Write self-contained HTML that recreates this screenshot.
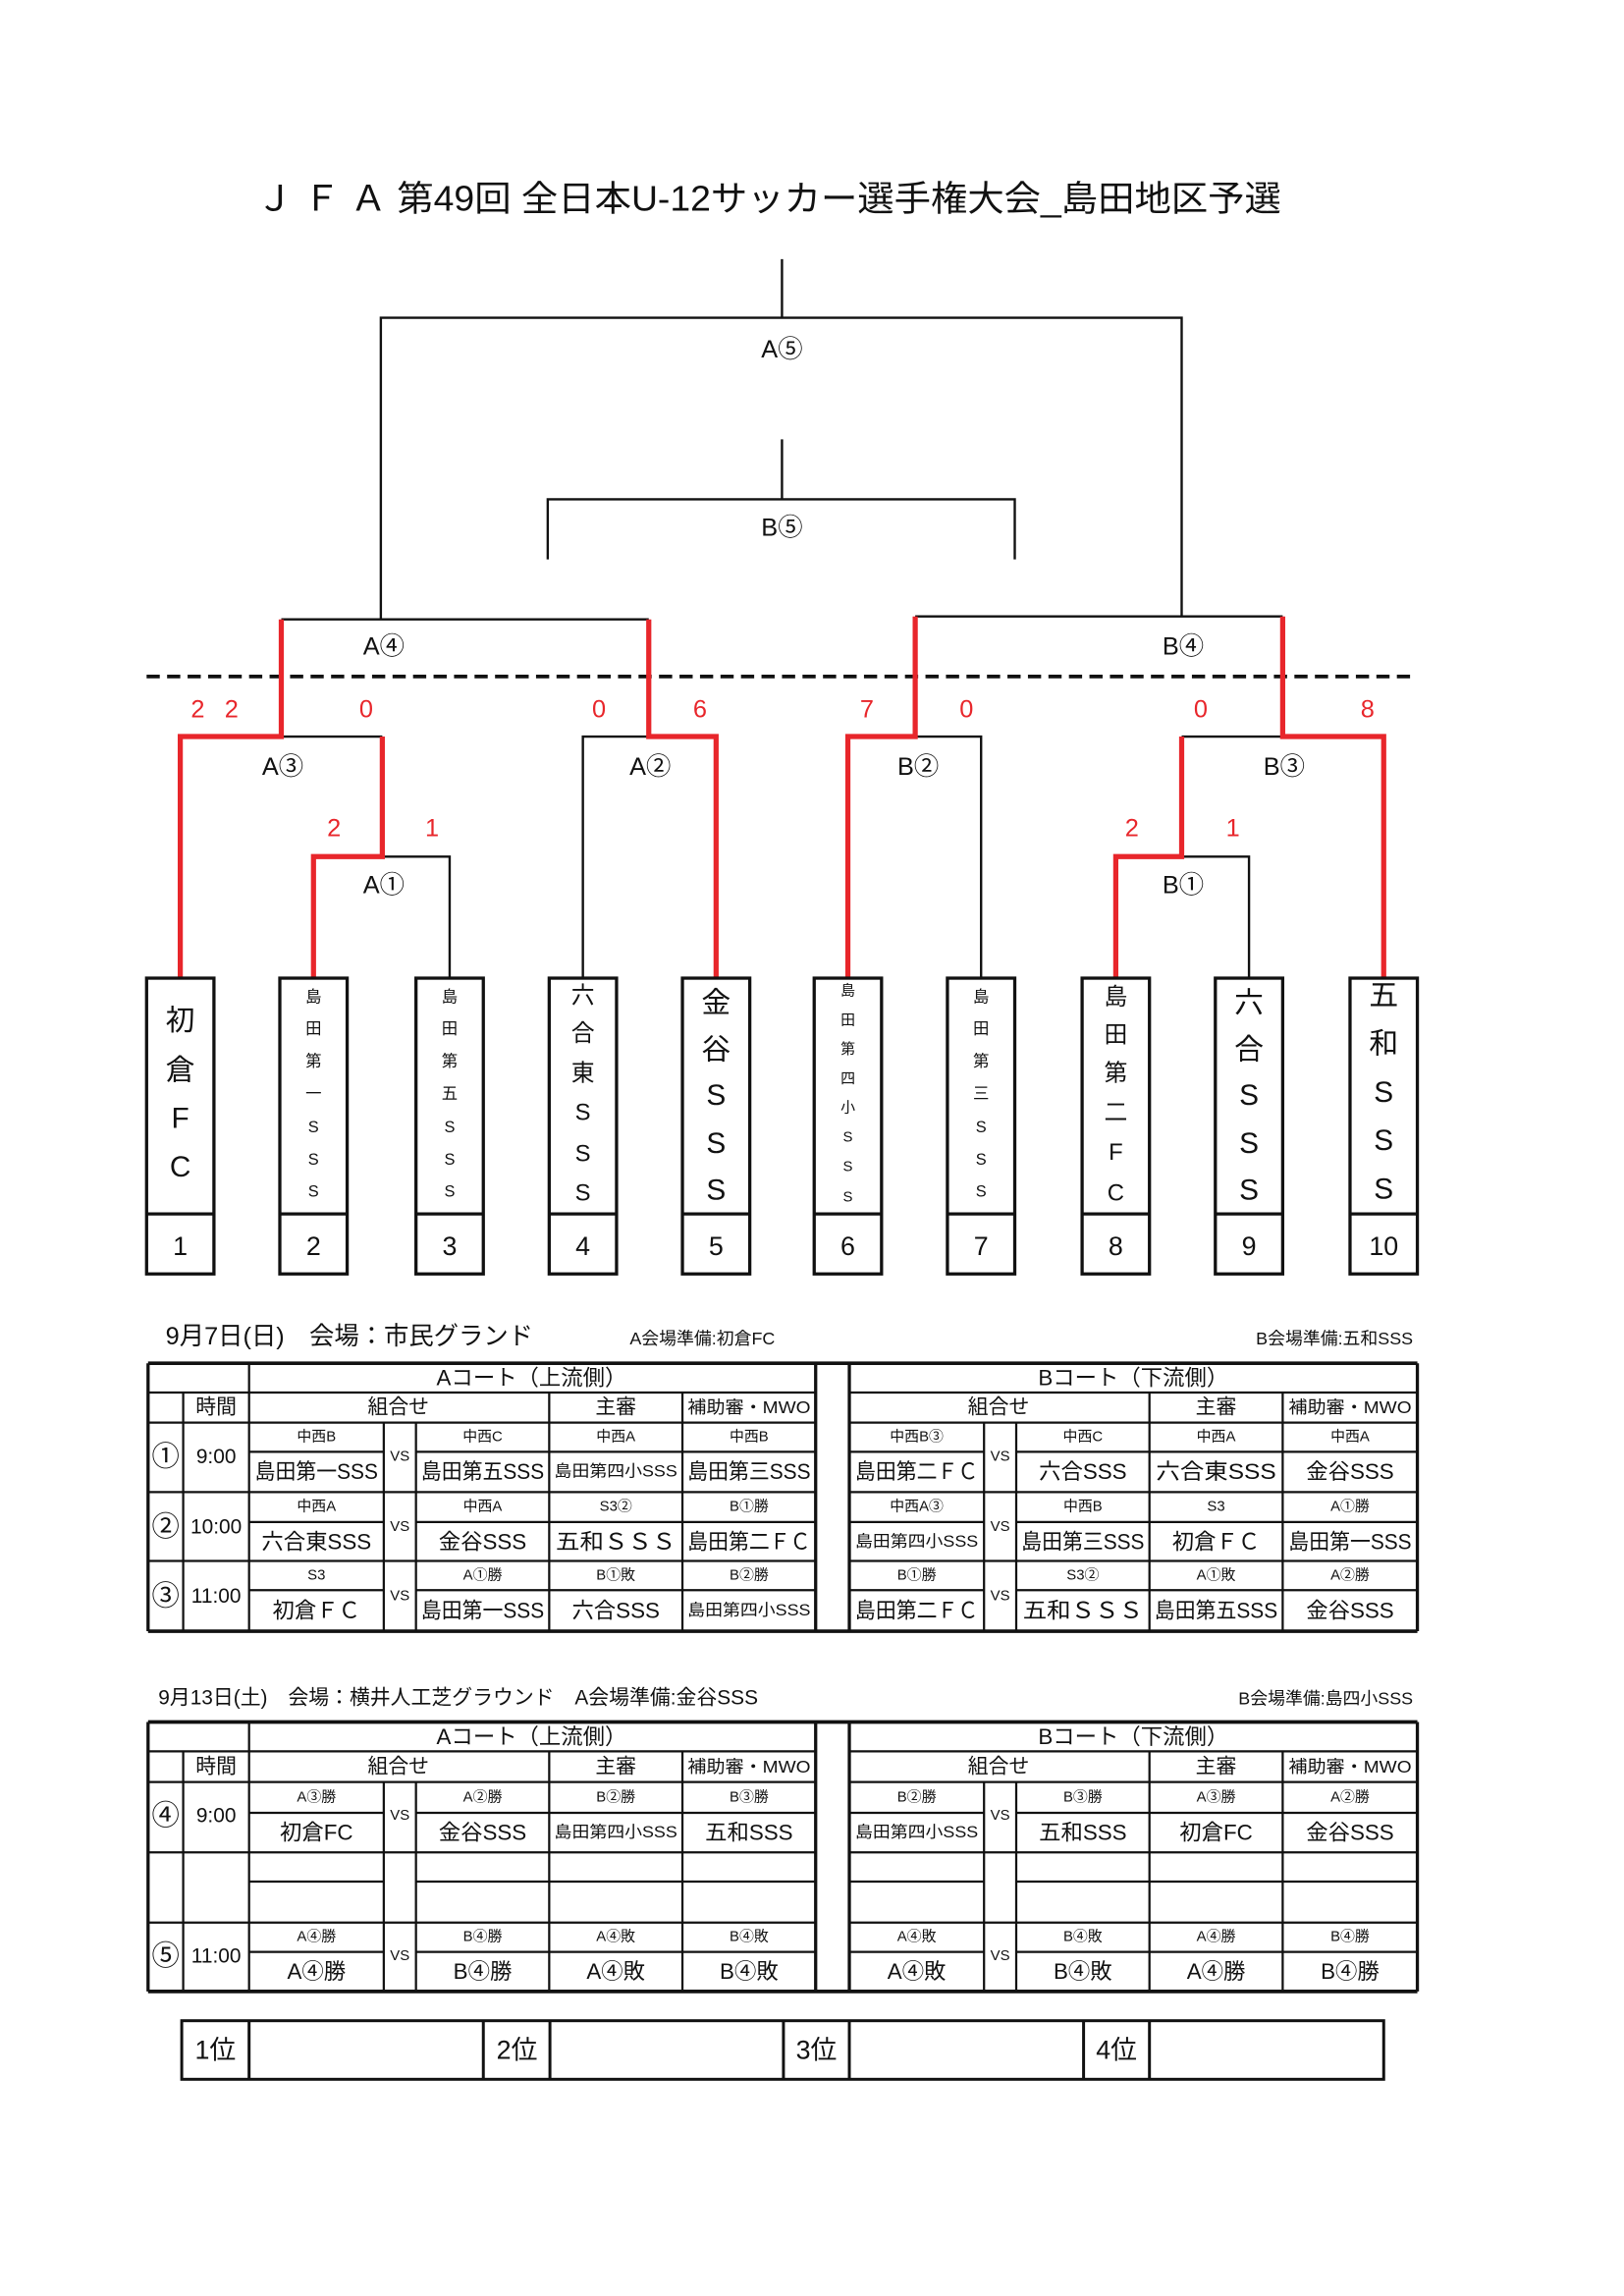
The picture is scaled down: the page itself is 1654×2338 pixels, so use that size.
<!DOCTYPE html>
<html><head><meta charset="utf-8"><style>
html,body{margin:0;padding:0;background:#fff}
svg{display:block}
text{font-family:"Liberation Sans","Noto Sans CJK JP",sans-serif;fill:#111}
.r{fill:#e8262b}
</style></head><body>
<svg width="1654" height="2338" viewBox="0 0 1109 1568" xmlns="http://www.w3.org/2000/svg">
<rect width="1109" height="1568" fill="#fff"/>
<text x="525" y="144" font-size="24" text-anchor="middle" textLength="700" lengthAdjust="spacingAndGlyphs">Ｊ Ｆ Ａ 第49回 全日本U-12サッカー選手権大会_島田地区予選</text>

<!-- black bracket -->
<g stroke="#111" stroke-width="1.6" fill="none">
<path d="M534 177V217M260 423V217H807V421"/>
<path d="M534 300V341M374 382V341H693V382"/>
<path d="M192 423H443M625 421H876"/>
<path d="M192 503H261M398 668V503H443M625 503H670V668M807 503H876"/>
<path d="M261 585H307V668M807 585H853V668"/>
</g>
<line x1="100" y1="462" x2="965" y2="462" stroke="#111" stroke-width="2.5" stroke-dasharray="9,5"/>
<!-- red bracket -->
<g stroke="#e8262b" stroke-width="3.5" fill="none">
<path d="M192 423V503H123V668"/>
<path d="M443 423V503H489V668"/>
<path d="M625 421V503H579V668"/>
<path d="M876 421V503H945V668"/>
<path d="M261 503V585H214V668"/>
<path d="M807 503V585H762V668"/>
</g>
<g font-size="17" text-anchor="middle">
<text x="534" y="244">A⑤</text><text x="534" y="366">B⑤</text>
<text x="262" y="447">A④</text><text x="808" y="447">B④</text>
<text x="193" y="529">A③</text><text x="444" y="529">A②</text>
<text x="627" y="529">B②</text><text x="877" y="529">B③</text>
<text x="262" y="610">A①</text><text x="808" y="610">B①</text>
</g>
<g font-size="17" text-anchor="middle" class="r">
<text class="r" x="135" y="490">2</text><text class="r" x="158" y="490">2</text>
<text class="r" x="250" y="490">0</text><text class="r" x="409" y="490">0</text>
<text class="r" x="478" y="490">6</text><text class="r" x="592" y="490">7</text>
<text class="r" x="660" y="490">0</text><text class="r" x="820" y="490">0</text>
<text class="r" x="934" y="490">8</text>
<text class="r" x="228" y="571">2</text><text class="r" x="295" y="571">1</text>
<text class="r" x="773" y="571">2</text><text class="r" x="842" y="571">1</text>
</g>

<!-- team boxes -->
<g stroke="#111" stroke-width="2.2" fill="none">
<rect x="100" y="668" width="46" height="202"/><line x1="100" y1="829" x2="146" y2="829"/>
<rect x="191" y="668" width="46" height="202"/><line x1="191" y1="829" x2="237" y2="829"/>
<rect x="284" y="668" width="46" height="202"/><line x1="284" y1="829" x2="330" y2="829"/>
<rect x="375" y="668" width="46" height="202"/><line x1="375" y1="829" x2="421" y2="829"/>
<rect x="466" y="668" width="46" height="202"/><line x1="466" y1="829" x2="512" y2="829"/>
<rect x="556" y="668" width="46" height="202"/><line x1="556" y1="829" x2="602" y2="829"/>
<rect x="647" y="668" width="46" height="202"/><line x1="647" y1="829" x2="693" y2="829"/>
<rect x="739" y="668" width="46" height="202"/><line x1="739" y1="829" x2="785" y2="829"/>
<rect x="830" y="668" width="46" height="202"/><line x1="830" y1="829" x2="876" y2="829"/>
<rect x="922" y="668" width="46" height="202"/><line x1="922" y1="829" x2="968" y2="829"/>
</g>
<g font-size="18" text-anchor="middle">
<text x="123" y="857">1</text><text x="214" y="857">2</text><text x="307" y="857">3</text><text x="398" y="857">4</text><text x="489" y="857">5</text><text x="579" y="857">6</text><text x="670" y="857">7</text><text x="762" y="857">8</text><text x="853" y="857">9</text><text x="945" y="857">10</text>
</g>
<g text-anchor="middle" dominant-baseline="central">
<g font-size="20"><text x="123" y="697">初</text><text x="123" y="731">倉</text><text x="123" y="764">F</text><text x="123" y="797">C</text></g>
<g font-size="11"><text x="214" y="681">島</text><text x="214" y="703">田</text><text x="214" y="725">第</text><text x="214" y="747">一</text><text x="214" y="770">S</text><text x="214" y="792">S</text><text x="214" y="814">S</text></g>
<g font-size="11"><text x="307" y="681">島</text><text x="307" y="703">田</text><text x="307" y="725">第</text><text x="307" y="747">五</text><text x="307" y="770">S</text><text x="307" y="792">S</text><text x="307" y="814">S</text></g>
<g font-size="16"><text x="398" y="680">六</text><text x="398" y="706">合</text><text x="398" y="733">東</text><text x="398" y="760">S</text><text x="398" y="788">S</text><text x="398" y="815">S</text></g>
<g font-size="20"><text x="489" y="685">金</text><text x="489" y="717">谷</text><text x="489" y="748">S</text><text x="489" y="781">S</text><text x="489" y="813">S</text></g>
<g font-size="10"><text x="579" y="677">島</text><text x="579" y="697">田</text><text x="579" y="717">第</text><text x="579" y="737">四</text><text x="579" y="757">小</text><text x="579" y="777">S</text><text x="579" y="797">S</text><text x="579" y="818">S</text></g>
<g font-size="11"><text x="670" y="681">島</text><text x="670" y="703">田</text><text x="670" y="725">第</text><text x="670" y="747">三</text><text x="670" y="770">S</text><text x="670" y="792">S</text><text x="670" y="814">S</text></g>
<g font-size="16"><text x="762" y="681">島</text><text x="762" y="707">田</text><text x="762" y="733">第</text><text x="762" y="760">二</text><text x="762" y="787">F</text><text x="762" y="815">C</text></g>
<g font-size="20"><text x="853" y="685">六</text><text x="853" y="717">合</text><text x="853" y="748">S</text><text x="853" y="781">S</text><text x="853" y="813">S</text></g>
<g font-size="20"><text x="945" y="680">五</text><text x="945" y="713">和</text><text x="945" y="746">S</text><text x="945" y="779">S</text><text x="945" y="812">S</text></g>
</g>

<!-- Table 1 -->
<text x="113" y="918" font-size="17">9月7日(日)　会場：市民グランド</text>
<text x="430" y="918" font-size="12">A会場準備:初倉FC</text>
<text x="965" y="918" font-size="12" text-anchor="end">B会場準備:五和SSS</text>
<g stroke="#111" stroke-width="1.5" fill="none">
<path d="M101 931H968M101 1114H968" stroke-width="2.5"/>
<path d="M101 931V1114M968 931V1114M557 931V1114M580 931V1114" stroke-width="2.2"/>
<path d="M101 951H557M580 951H968M101 971.5H557M580 971.5H968M101 1019H557M580 1019H968M101 1066H557M580 1066H968"/>
<path d="M170 991.5H262M284 991.5H557M580 991.5H672M694 991.5H968"/>
<path d="M170 1039.4H262M284 1039.4H557M580 1039.4H672M694 1039.4H968"/>
<path d="M170 1086H262M284 1086H557M580 1086H672M694 1086H968"/>
<path d="M125 951V1114M170 931V1114M262 971.5V1114M284 971.5V1114M375 951V1114M466 951V1114M672 971.5V1114M694 971.5V1114M785 951V1114M876 951V1114"/>
</g>
<g text-anchor="middle" dominant-baseline="central">
<g font-size="15"><text x="363" y="941">Aコート（上流側）</text><text x="774" y="941">Bコート（下流側）</text></g>
<g font-size="14"><text x="147.5" y="961">時間</text><text x="272" y="961">組合せ</text><text x="420.5" y="961">主審</text><text x="682" y="961">組合せ</text><text x="830.5" y="961">主審</text></g>
<g font-size="12"><text x="511.5" y="961" textLength="84" lengthAdjust="spacingAndGlyphs">補助審・MWO</text><text x="922" y="961" textLength="84" lengthAdjust="spacingAndGlyphs">補助審・MWO</text></g>
<g font-size="19"><text x="113" y="995">①</text><text x="113" y="1043">②</text><text x="113" y="1090">③</text></g>
<g font-size="14"><text x="147.5" y="995">9:00</text><text x="147.5" y="1043">10:00</text><text x="147.5" y="1090">11:00</text></g>
<g font-size="10"><text x="273" y="995">VS</text><text x="273" y="1043">VS</text><text x="273" y="1090">VS</text><text x="683" y="995">VS</text><text x="683" y="1043">VS</text><text x="683" y="1090">VS</text></g>
<g font-size="10">
<text x="216" y="981.5">中西B</text><text x="329.5" y="981.5">中西C</text><text x="420.5" y="981.5">中西A</text><text x="511.5" y="981.5">中西B</text>
<text x="626" y="981.5">中西B③</text><text x="739.5" y="981.5">中西C</text><text x="830.5" y="981.5">中西A</text><text x="922" y="981.5">中西A</text>
<text x="216" y="1029">中西A</text><text x="329.5" y="1029">中西A</text><text x="420.5" y="1029">S3②</text><text x="511.5" y="1029">B①勝</text>
<text x="626" y="1029">中西A③</text><text x="739.5" y="1029">中西B</text><text x="830.5" y="1029">S3</text><text x="922" y="1029">A①勝</text>
<text x="216" y="1076">S3</text><text x="329.5" y="1076">A①勝</text><text x="420.5" y="1076">B①敗</text><text x="511.5" y="1076">B②勝</text>
<text x="626" y="1076">B①勝</text><text x="739.5" y="1076">S3②</text><text x="830.5" y="1076">A①敗</text><text x="922" y="1076">A②勝</text>
</g>
<g font-size="15">
<text x="216" y="1005" textLength="84" lengthAdjust="spacingAndGlyphs">島田第一SSS</text>
<text x="329.5" y="1005" textLength="84" lengthAdjust="spacingAndGlyphs">島田第五SSS</text>
<text x="420.5" y="1005" font-size="11" textLength="84" lengthAdjust="spacingAndGlyphs">島田第四小SSS</text>
<text x="511.5" y="1005" textLength="84" lengthAdjust="spacingAndGlyphs">島田第三SSS</text>
<text x="626" y="1005" textLength="84" lengthAdjust="spacingAndGlyphs">島田第二ＦＣ</text>
<text x="739.5" y="1005">六合SSS</text>
<text x="830.5" y="1005" textLength="82" lengthAdjust="spacingAndGlyphs">六合東SSS</text>
<text x="922" y="1005">金谷SSS</text>
<text x="216" y="1053">六合東SSS</text>
<text x="329.5" y="1053">金谷SSS</text>
<text x="420.5" y="1053" textLength="82" lengthAdjust="spacingAndGlyphs">五和ＳＳＳ</text>
<text x="511.5" y="1053" textLength="84" lengthAdjust="spacingAndGlyphs">島田第二ＦＣ</text>
<text x="626" y="1053" font-size="11" textLength="84" lengthAdjust="spacingAndGlyphs">島田第四小SSS</text>
<text x="739.5" y="1053" textLength="84" lengthAdjust="spacingAndGlyphs">島田第三SSS</text>
<text x="830.5" y="1053">初倉ＦＣ</text>
<text x="922" y="1053" textLength="84" lengthAdjust="spacingAndGlyphs">島田第一SSS</text>
<text x="216" y="1100">初倉ＦＣ</text>
<text x="329.5" y="1100" textLength="84" lengthAdjust="spacingAndGlyphs">島田第一SSS</text>
<text x="420.5" y="1100">六合SSS</text>
<text x="511.5" y="1100" font-size="11" textLength="84" lengthAdjust="spacingAndGlyphs">島田第四小SSS</text>
<text x="626" y="1100" textLength="84" lengthAdjust="spacingAndGlyphs">島田第二ＦＣ</text>
<text x="739.5" y="1100" textLength="82" lengthAdjust="spacingAndGlyphs">五和ＳＳＳ</text>
<text x="830.5" y="1100" textLength="84" lengthAdjust="spacingAndGlyphs">島田第五SSS</text>
<text x="922" y="1100">金谷SSS</text>
</g>
</g>

<!-- Table 2 -->
<text x="108" y="1164" font-size="14">9月13日(土)　会場：横井人工芝グラウンド　A会場準備:金谷SSS</text>
<text x="965" y="1164" font-size="12" text-anchor="end">B会場準備:島四小SSS</text>
<g stroke="#111" stroke-width="1.5" fill="none">
<path d="M101 1176H968M101 1360H968" stroke-width="2.5"/>
<path d="M101 1176V1360M968 1176V1360M557 1176V1360M580 1176V1360" stroke-width="2.2"/>
<path d="M101 1196H557M580 1196H968M101 1217H557M580 1217H968M101 1265H557M580 1265H968M101 1313H557M580 1313H968"/>
<path d="M170 1238H262M284 1238H557M580 1238H672M694 1238H968"/>
<path d="M170 1285H262M284 1285H557M580 1285H672M694 1285H968"/>
<path d="M170 1333H262M284 1333H557M580 1333H672M694 1333H968"/>
<path d="M125 1196V1360M170 1176V1360M262 1217V1360M284 1217V1360M375 1196V1360M466 1196V1360M672 1217V1360M694 1217V1360M785 1196V1360M876 1196V1360"/>
</g>
<g text-anchor="middle" dominant-baseline="central">
<g font-size="15"><text x="363" y="1186">Aコート（上流側）</text><text x="774" y="1186">Bコート（下流側）</text></g>
<g font-size="14"><text x="147.5" y="1206.5">時間</text><text x="272" y="1206.5">組合せ</text><text x="420.5" y="1206.5">主審</text><text x="682" y="1206.5">組合せ</text><text x="830.5" y="1206.5">主審</text></g>
<g font-size="12"><text x="511.5" y="1206.5" textLength="84" lengthAdjust="spacingAndGlyphs">補助審・MWO</text><text x="922" y="1206.5" textLength="84" lengthAdjust="spacingAndGlyphs">補助審・MWO</text></g>
<g font-size="19"><text x="113" y="1240">④</text><text x="113" y="1336">⑤</text></g>
<g font-size="14"><text x="147.5" y="1240">9:00</text><text x="147.5" y="1336">11:00</text></g>
<g font-size="10"><text x="273" y="1240">VS</text><text x="273" y="1336">VS</text><text x="683" y="1240">VS</text><text x="683" y="1336">VS</text></g>
<g font-size="10">
<text x="216" y="1227.5">A③勝</text><text x="329.5" y="1227.5">A②勝</text><text x="420.5" y="1227.5">B②勝</text><text x="511.5" y="1227.5">B③勝</text>
<text x="626" y="1227.5">B②勝</text><text x="739.5" y="1227.5">B③勝</text><text x="830.5" y="1227.5">A③勝</text><text x="922" y="1227.5">A②勝</text>
<text x="216" y="1323">A④勝</text><text x="329.5" y="1323">B④勝</text><text x="420.5" y="1323">A④敗</text><text x="511.5" y="1323">B④敗</text>
<text x="626" y="1323">A④敗</text><text x="739.5" y="1323">B④敗</text><text x="830.5" y="1323">A④勝</text><text x="922" y="1323">B④勝</text>
</g>
<g font-size="15">
<text x="216" y="1251.5">初倉FC</text><text x="329.5" y="1251.5">金谷SSS</text>
<text x="420.5" y="1251.5" font-size="11" textLength="84" lengthAdjust="spacingAndGlyphs">島田第四小SSS</text>
<text x="511.5" y="1251.5">五和SSS</text>
<text x="626" y="1251.5" font-size="11" textLength="84" lengthAdjust="spacingAndGlyphs">島田第四小SSS</text>
<text x="739.5" y="1251.5">五和SSS</text><text x="830.5" y="1251.5">初倉FC</text><text x="922" y="1251.5">金谷SSS</text>
<text x="216" y="1346.5">A④勝</text><text x="329.5" y="1346.5">B④勝</text><text x="420.5" y="1346.5">A④敗</text><text x="511.5" y="1346.5">B④敗</text>
<text x="626" y="1346.5">A④敗</text><text x="739.5" y="1346.5">B④敗</text><text x="830.5" y="1346.5">A④勝</text><text x="922" y="1346.5">B④勝</text>
</g>
</g>

<!-- ranking -->
<g stroke="#111" stroke-width="2" fill="none">
<rect x="124" y="1380" width="821" height="40"/>
<path d="M170 1380V1420M330 1380V1420M375.5 1380V1420M535 1380V1420M580 1380V1420M740 1380V1420M785 1380V1420"/>
</g>
<g font-size="18" text-anchor="middle" dominant-baseline="central">
<text x="147" y="1400">1位</text><text x="353" y="1400">2位</text><text x="557.5" y="1400">3位</text><text x="762.5" y="1400">4位</text>
</g>
</svg>
</body></html>
